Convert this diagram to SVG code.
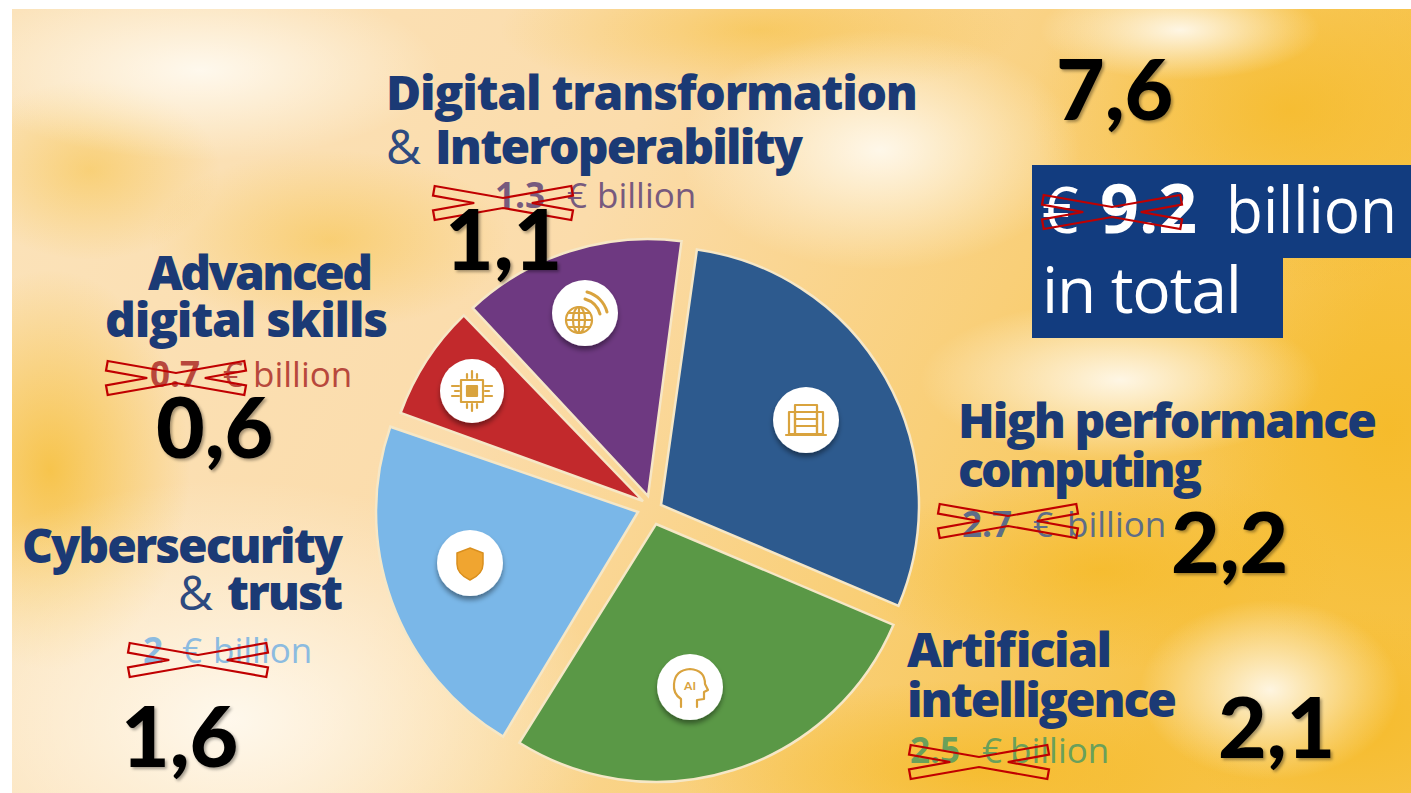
<svg xmlns="http://www.w3.org/2000/svg" xmlns:xlink="http://www.w3.org/1999/xlink" width="1411" height="793" viewBox="0 0 1411 793">
<defs>
<style>
.h{font-family:"Open Sans","DejaVu Sans",sans-serif;font-weight:800;font-size:48px;fill:#1b3a75}
.amp{font-weight:400;fill:#2d4a80}
.amt{font-family:"Open Sans","DejaVu Sans",sans-serif;font-size:35px;font-weight:400}
.amt .n{font-weight:700}
.big{font-family:Lato,"Liberation Sans",sans-serif;font-weight:900;font-size:84px;fill:#000;filter:url(#tsh)}
.box{font-family:"Open Sans","DejaVu Sans",sans-serif;font-size:64px;fill:#fff}
.slice{stroke:#f6e7c6;stroke-width:2.5}
.ic{fill:none;stroke:#d9a33e;stroke-width:2.2;stroke-linecap:round;stroke-linejoin:round}
.icw{fill:#fff;filter:url(#ish)}
</style>
<linearGradient id="bgBase" x1="0" y1="0" x2="1" y2="0.3">
<stop offset="0" stop-color="#fbe3bb"/>
<stop offset="0.45" stop-color="#fbdcab"/>
<stop offset="0.75" stop-color="#f9cf78"/>
<stop offset="1" stop-color="#f7c347"/>
</linearGradient>
<radialGradient id="gY"><stop offset="0" stop-color="#f5b820" stop-opacity="0.7"/><stop offset="1" stop-color="#f5b820" stop-opacity="0"/></radialGradient>
<radialGradient id="gW"><stop offset="0" stop-color="#fffbf3" stop-opacity="0.9"/><stop offset="1" stop-color="#fffbf3" stop-opacity="0"/></radialGradient>
<filter id="tsh" x="-10%" y="-10%" width="130%" height="130%"><feDropShadow dx="2" dy="2" stdDeviation="1.5" flood-color="#000" flood-opacity="0.35"/></filter>
<filter id="ish" x="-30%" y="-30%" width="160%" height="170%"><feDropShadow dx="0" dy="4" stdDeviation="2.5" flood-color="#000" flood-opacity="0.4"/></filter>
<path id="xmark" d="M1.7,0 L70,12 L138.3,0 L140,9.7 L98.8,17 L140,24.3 L138.3,34 L70,22 L1.7,34 L0,24.3 L41.2,17 L0,9.7 Z" fill="none" stroke="#c00000" stroke-width="2.2"/>
<clipPath id="bgclip"><rect x="12" y="9" width="1399" height="784"/></clipPath>
</defs>

<rect width="1411" height="793" fill="#ffffff"/>
<g id="background" clip-path="url(#bgclip)">
<rect x="12" y="9" width="1399" height="784" fill="url(#bgBase)"/>
<ellipse cx="1290" cy="110" rx="260" ry="180" fill="url(#gY)"/>
<ellipse cx="1390" cy="430" rx="200" ry="240" fill="url(#gY)"/>
<ellipse cx="1100" cy="570" rx="240" ry="100" fill="url(#gY)"/>
<ellipse cx="980" cy="770" rx="300" ry="90" fill="url(#gY)"/>
<ellipse cx="1350" cy="720" rx="180" ry="110" fill="url(#gY)"/>
<ellipse cx="50" cy="470" rx="140" ry="200" fill="url(#gY)"/>
<ellipse cx="90" cy="170" rx="130" ry="90" fill="url(#gY)" opacity="0.6"/>
<ellipse cx="760" cy="30" rx="260" ry="70" fill="url(#gY)" opacity="0.7"/>
<ellipse cx="330" cy="240" rx="180" ry="90" fill="url(#gY)" opacity="0.6"/>
<ellipse cx="880" cy="150" rx="200" ry="120" fill="url(#gW)"/>
<ellipse cx="200" cy="70" rx="240" ry="90" fill="url(#gW)"/>
<ellipse cx="230" cy="720" rx="380" ry="240" fill="url(#gW)"/>
<ellipse cx="1270" cy="690" rx="130" ry="90" fill="url(#gW)"/>
<ellipse cx="1120" cy="380" rx="200" ry="80" fill="url(#gW)"/>
<ellipse cx="1180" cy="30" rx="140" ry="50" fill="url(#gW)"/>
</g>

<g id="connectors"/>

<g id="total">
<path d="M1032,165 L1411,165 L1411,258 L1283,258 L1283,338 L1032,338 Z" fill="#123c7f"/>
<text class="box" y="233"><tspan x="1042">€</tspan><tspan x="1100" font-weight="700" font-size="68">9.2</tspan><tspan x="1226" textLength="171" lengthAdjust="spacingAndGlyphs">billion</tspan></text>
<text class="box" x="1042" y="313" textLength="200">in total</text>
<use href="#xmark" x="1042" y="195"/>
<text class="big" x="1056" y="120">7,6</text>
</g>

<g id="high-performance-computing">
<path class="slice" fill="#2d5a8e" d="M661,505 L696.9,249.5 A258,258 0 0 1 898.5,605.8 Z"/>
<circle class="icw" cx="806" cy="420" r="33"/>
<g class="ic">
<rect x="795" y="405" width="22" height="29"/>
<line x1="795" y1="412" x2="817" y2="412"/><line x1="795" y1="419" x2="817" y2="419"/><line x1="795" y1="426" x2="817" y2="426"/>
<rect x="789" y="412" width="6" height="22"/><rect x="817" y="412" width="6" height="22"/>
<line x1="786" y1="435" x2="826" y2="435"/>
</g>
<text class="h" x="958" y="438" textLength="419">High performance</text>
<text class="h" x="958" y="487" textLength="244">computing</text>
<text class="amt" y="537" fill="#5d6d88"><tspan class="n" x="962">2.7</tspan><tspan x="1033">€</tspan><tspan x="1067">billion</tspan></text>
<use href="#xmark" x="938" y="504"/>
<text class="big" x="1171" y="573">2,2</text>
</g>

<g id="artificial-intelligence">
<path class="slice" fill="#5a9846" d="M656,524 L893.5,624.8 A258,258 0 0 1 519.3,742.8 Z"/>
<circle class="icw" cx="690" cy="687" r="33"/>
<path class="ic" d="M681,707 L681,699 Q673,694 674,684 Q675,670 690,669 Q705,670 705,684 L708,690 L704,692 L704,699 L697,700 L697,707"/>
<text x="690" y="690" text-anchor="middle" font-family="Lato,'Liberation Sans',sans-serif" font-weight="700" font-size="12" fill="#d9a33e">AI</text>
<text class="h" x="907" y="667" textLength="205">Artificial</text>
<text class="h" x="907" y="717" textLength="270">intelligence</text>
<text class="amt" y="763" fill="#6aa05a"><tspan class="n" x="910">2.5</tspan><tspan x="982">€</tspan><tspan x="1010">billion</tspan></text>
<use href="#xmark" x="909" y="745"/>
<text class="big" x="1218" y="758">2,1</text>
</g>

<g id="cybersecurity-trust">
<path class="slice" fill="#7ab7e8" d="M638,512 L503.1,736.6 A262,262 0 0 1 390.3,426.7 Z"/>
<circle class="icw" cx="470" cy="563" r="33"/>
<path d="M470,548 L483,553 L483,564 Q483,574 470,580 Q457,574 457,564 L457,553 Z" fill="#f0a530" stroke="#d98f1e" stroke-width="1.5"/>
<text class="h" x="22" y="563" textLength="321">Cybersecurity</text>
<text class="h" y="610"><tspan class="amp" x="178">&amp;</tspan><tspan x="227" textLength="116">trust</tspan></text>
<text class="amt" y="663" fill="#8cbbe0"><tspan class="n" x="143">2</tspan><tspan x="182">€</tspan><tspan x="213">billion</tspan></text>
<use href="#xmark" x="128" y="643"/>
<text class="big" x="121" y="767">1,6</text>
</g>

<g id="advanced-digital-skills">
<path class="slice" fill="#c2292c" d="M643,501 L400.6,412.8 A258,258 0 0 1 463.8,315.4 Z"/>
<circle class="icw" cx="472" cy="391" r="32"/>
<g class="ic">
<rect x="461" y="380" width="22" height="22"/>
<rect x="467" y="386" width="10" height="10" fill="#d9a33e"/>
<line x1="467" y1="374" x2="467" y2="378"/><line x1="472" y1="371" x2="472" y2="378"/><line x1="477" y1="374" x2="477" y2="378"/>
<line x1="467" y1="404" x2="467" y2="408"/><line x1="472" y1="404" x2="472" y2="411"/><line x1="477" y1="404" x2="477" y2="408"/>
<line x1="452" y1="386" x2="459" y2="386"/><line x1="455" y1="391" x2="459" y2="391"/><line x1="452" y1="396" x2="459" y2="396"/>
<line x1="485" y1="386" x2="492" y2="386"/><line x1="485" y1="391" x2="489" y2="391"/><line x1="485" y1="396" x2="492" y2="396"/>
</g>
<text class="h" x="148" y="290" textLength="225">Advanced</text>
<text class="h" x="105" y="337" textLength="283">digital skills</text>
<text class="amt" y="387" fill="#b8483c"><tspan class="n" x="150">0.7</tspan><tspan x="223">€</tspan><tspan x="253">billion</tspan></text>
<use href="#xmark" x="106" y="361"/>
<text class="big" x="156" y="458">0,6</text>
</g>

<g id="digital-transformation-interoperability">
<path class="slice" fill="#6e3981" d="M648,496 L472.7,308 A257,257 0 0 1 681.5,241.2 Z"/>
<circle class="icw" cx="585" cy="313" r="33"/>
<g class="ic">
<circle cx="579" cy="320" r="13"/>
<ellipse cx="579" cy="320" rx="6" ry="13"/>
<line x1="566" y1="320" x2="592" y2="320"/>
<line x1="568" y1="313" x2="590" y2="313"/><line x1="568" y1="327" x2="590" y2="327"/>
<line x1="579" y1="307" x2="579" y2="333"/>
<path d="M585,299 A22,22 0 0 1 600,314" stroke-width="3"/>
<path d="M587,292 A28,28 0 0 1 607,312" stroke-width="3"/>
</g>
<text class="h" x="386" y="110" textLength="532">Digital transformation</text>
<text class="h" y="164"><tspan class="amp" x="386">&amp;</tspan><tspan x="435" textLength="368">Interoperability</tspan></text>
<text class="amt" y="208" fill="#775a7e"><tspan class="n" x="495">1.3</tspan><tspan x="567">€</tspan><tspan x="597">billion</tspan></text>
<use href="#xmark" x="433" y="186"/>
<text class="big" x="445" y="270">1,1</text>
</g>
</svg>
